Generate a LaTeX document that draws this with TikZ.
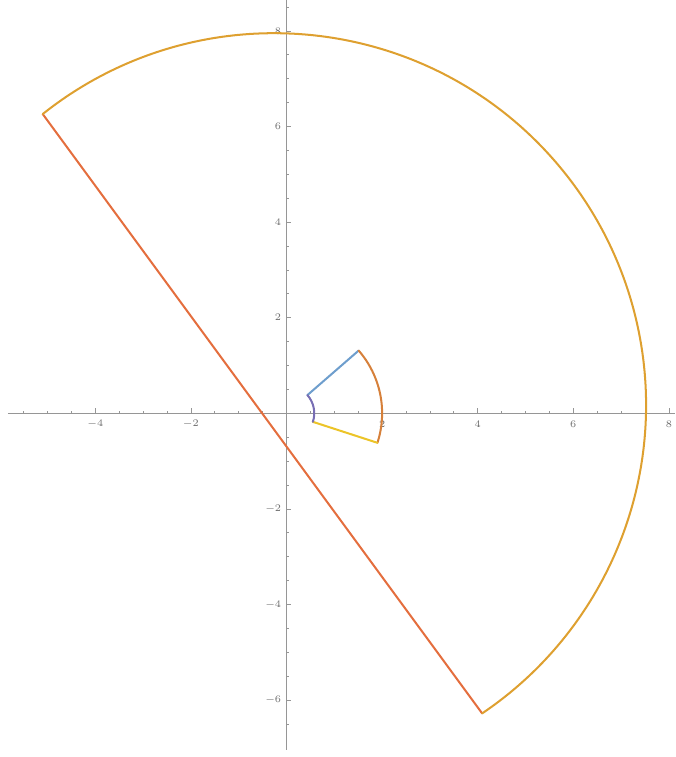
\documentclass[tikz,border=0pt]{standalone}
\usepackage{tikz}
\usetikzlibrary{arrows.meta,positioning}

\definecolor{axisgray}{RGB}{150,150,150}
\definecolor{labelgray}{RGB}{110,110,110}
\definecolor{curveblue}{RGB}{110,158,205}
\definecolor{curveorange}{RGB}{214,128,58}
\definecolor{curveyellow}{RGB}{236,196,40}
\definecolor{curvepurple}{RGB}{120,110,180}
\definecolor{bigarc}{RGB}{222,160,48}
\definecolor{bigline}{RGB}{228,110,62}

\begin{document}
\begin{tikzpicture}[
  axisline/.style={draw=axisgray, line width=0.6pt},
  tickmark/.style={draw=axisgray, line width=0.4pt},
  ticklabel/.style={text=labelgray, font=\fontsize{6}{7}\selectfont, inner sep=1pt},
  curve/.style={line width=1.2pt, line cap=round, line join=round},
  >=Stealth
]
\useasboundingbox (-5.994,-7.191) rectangle (8.128,8.646);

% axes
\coordinate (xstart) at (-5.83,0);
\coordinate (xend) at (8.128,0);
\coordinate (ystart) at (0,-7.04);
\coordinate (yend) at (0,8.646);
\draw[axisline] (xstart) -- (xend);
\draw[axisline] (ystart) -- (yend);

% ticks
\foreach \t in {-5.5,-5,...,8} {\draw[tickmark] (\t,0) -- (\t,0.05);}
\foreach \t in {-6.5,-6,...,8.5} {\draw[tickmark] (0,\t) -- (0.05,\t);}
\foreach \t in {-4,-2,2,4,6,8} {
  \draw[tickmark] (\t,0) -- (\t,0.1);
  \node[ticklabel] (xl\t) at (\t,-0.224) {$\t$};
}
\foreach \t in {-6,-4,-2,2,4,6,8} {
  \draw[tickmark] (0,\t) -- (0.1,\t);
  \node[ticklabel, anchor=east] (yl\t) at (-0.07,\t) {$\t$};
}

% small sector
\coordinate (inA) at (41:0.58);
\coordinate (outA) at (41:2);
\coordinate (outB) at (-18:2);
\coordinate (inB) at (-18:0.58);
\draw[curve, curveblue] (inA) -- (outA);
\draw[curve, curveorange] (outA) arc[start angle=41, end angle=-18, radius=2];
\draw[curve, curveyellow] (outB) -- (inB);
\draw[curve, curvepurple] (inB) arc[start angle=-18, end angle=41, radius=0.58];

% large region
\coordinate (bigP) at (-5.10,6.26);
\coordinate (bigQ) at (4.093,-6.279);
\draw[curve, bigline] (bigP) -- (bigQ);
\draw[curve, bigarc] (bigP) arc[start angle=128.5, end angle=-56, radius=7.78];

\end{tikzpicture}
\end{document}
